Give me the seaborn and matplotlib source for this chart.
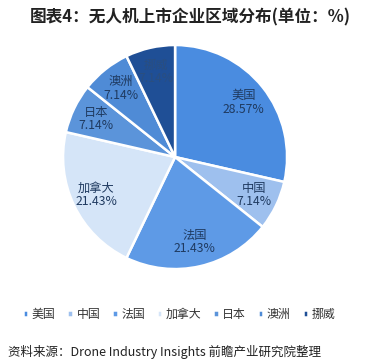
import matplotlib
matplotlib.use("Agg")
import matplotlib.pyplot as plt
import seaborn as sns

regions = ["美国", "中国", "法国", "加拿大", "日本", "澳洲", "挪威"]
shares = [28.57, 7.14, 21.43, 21.43, 7.14, 7.14, 7.14]
colors = ["#4A8CE0", "#9EC0EE", "#5E9AE6", "#D5E5F8", "#5B94DA", "#4F8BD6", "#1F4F96"]

sns.set_theme(style="white")
plt.rcParams["font.family"] = ["Noto Sans CJK SC", "DejaVu Sans"]

fig = plt.figure(figsize=(3.81, 3.61), dpi=100)
ax = fig.add_axes([0.092, 0.177, 0.735, 0.776])

labels = [f"{r}\n{s:.2f}%" for r, s in zip(regions, shares)]
wedges, texts = ax.pie(
    shares,
    colors=colors,
    startangle=90,
    counterclock=False,
    labels=labels,
    labeldistance=0.78,
    wedgeprops=dict(edgecolor="white", linewidth=1.8),
    textprops=dict(fontsize=8.8, color="#1F3A60", ha="center", va="center", linespacing=1.05),
)
for t in texts:
    t.set_horizontalalignment("center")
texts[-1].set_color("#2A4E80")
ax.set_aspect("equal")

fig.text(0.5, 0.952, "图表4：无人机上市企业区域分布(单位：%)", ha="center", va="center",
         fontsize=12, fontweight="bold", color="#222222")

fig.legend(wedges, regions, loc="center", bbox_to_anchor=(0.47, 0.13), ncol=7,
           frameon=False, fontsize=8.6, handlelength=0.45, handleheight=0.45,
           handletextpad=0.3, columnspacing=1.0, labelcolor="#333333")

fig.text(0.02, 0.025, "资料来源：Drone Industry Insights 前瞻产业研究院整理", ha="left", va="center",
         fontsize=9, color="#222222")

fig.savefig("out.png", dpi=100)
